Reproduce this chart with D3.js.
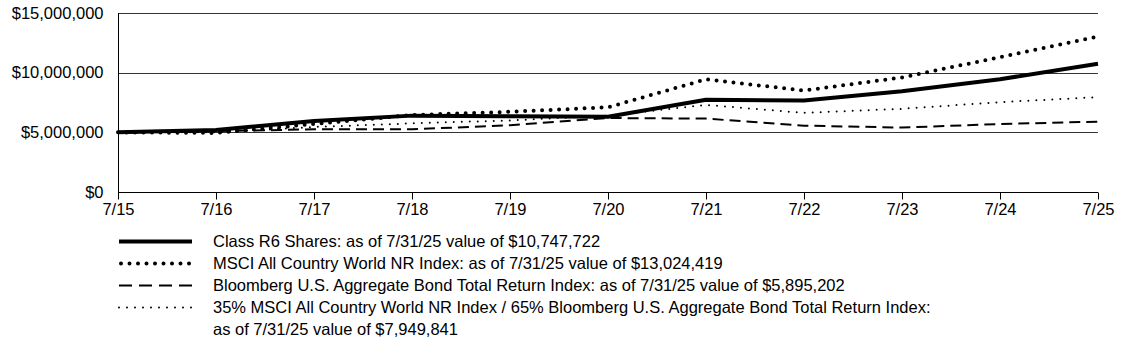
<!DOCTYPE html>
<meta charset="utf-8">
<style>
body { margin: 0; background: #fff; }
text { font-family: "Liberation Sans", Arial, sans-serif; fill: #000; }
.grid line { stroke: #333; stroke-width: 1px; }
.axis path, .axis line { stroke: #000; stroke-width: 1px; }
.axis text { font-size: 16.5px; font-family: "Liberation Sans", Arial, sans-serif; }
.series { fill: none; stroke: #000; }
.legend text { font-size: 16.5px; }
</style>
<body>
<svg id="chart" width="1123" height="347"></svg>
<script src="https://d3js.org/d3.v7.min.js"></script>
<script>

// values in $
var years = ["7/15","7/16","7/17","7/18","7/19","7/20","7/21","7/22","7/23","7/24","7/25"];
var r6    = [5000000, 5200000, 5950000, 6400000, 6350000, 6300000, 7730000, 7670000, 8450000, 9450000, 10747722];
var acwi  = [5000000, 4950000, 5700000, 6450000, 6720000, 7100000, 9440000, 8500000, 9600000, 11300000, 13024419];
var bond  = [5000000, 5100000, 5250000, 5250000, 5600000, 6200000, 6150000, 5560000, 5400000, 5700000, 5895202];
var blend = [5000000, 5000000, 5450000, 5750000, 6000000, 6400000, 7300000, 6630000, 6970000, 7530000, 7949841];
var yTicks = [0, 5000000, 10000000, 15000000];

var labels = [
  ["Class R6 Shares: as of 7/31/25 value of $10,747,722"],
  ["MSCI All Country World NR Index: as of 7/31/25 value of $13,024,419"],
  ["Bloomberg U.S. Aggregate Bond Total Return Index: as of 7/31/25 value of $5,895,202"],
  ["35% MSCI All Country World NR Index / 65% Bloomberg U.S. Aggregate Bond Total Return Index:",
   "as of 7/31/25 value of $7,949,841"]
];

var styles = [
  {w: 4,   dash: null,    cap: "butt"},
  {w: 4,   dash: "0,8.5", cap: "round"},
  {w: 2,   dash: "11,6",  cap: "butt"},
  {w: 2,   dash: "0,8",   cap: "round"}
];

var mLeft = 118, mRight = 1098, mTop = 13, mBottom = 192;
var svg = d3.select("#chart");

var x = d3.scalePoint().domain(years).range([mLeft, mRight]);
var y = d3.scaleLinear().domain([0, 15000000]).range([mBottom, mTop]);

// horizontal grid
svg.append("g").attr("class", "grid")
  .selectAll("line").data(yTicks.slice(1)).enter().append("line")
  .attr("x1", mLeft).attr("x2", mRight)
  .attr("y1", function(d) { return Math.round(y(d)) + 0.5; })
  .attr("y2", function(d) { return Math.round(y(d)) + 0.5; });

// y axis
var yAxis = svg.append("g").attr("class", "axis")
  .attr("transform", "translate(" + (mLeft + 0.5) + ",0)")
  .call(d3.axisLeft(y).tickValues(yTicks).tickSize(0).tickPadding(15)
    .tickFormat(function(d) { return "$" + d3.format(",")(d); }));
yAxis.select(".domain").remove();
svg.append("line").attr("class", "axis")
  .attr("x1", mLeft + 0.5).attr("x2", mLeft + 0.5)
  .attr("y1", mTop).attr("y2", mBottom + 7)
  .style("stroke", "#000");

// x axis
var xAxis = svg.append("g").attr("class", "axis")
  .attr("transform", "translate(0," + (mBottom + 0.5) + ")")
  .call(d3.axisBottom(x).tickSize(7).tickSizeOuter(0).tickPadding(4));
xAxis.select(".domain").attr("d", "M" + mLeft + ",0H" + mRight);

// series
var line = d3.line()
  .x(function(d, i) { return x(years[i]); })
  .y(function(d) { return y(d); });

var series = [blend, bond, r6, acwi];
var order = [3, 2, 0, 1];
series.forEach(function(s, k) {
  var st = styles[order[k]];
  svg.append("path").datum(s).attr("class", "series")
    .attr("d", line)
    .attr("stroke-width", st.w)
    .attr("stroke-dasharray", st.dash)
    .attr("stroke-linecap", st.cap)
    .attr("stroke-linejoin", "round");
});

// legend
var lg = svg.append("g").attr("class", "legend");
var rowY = [241, 263, 285, 307];
labels.forEach(function(lab, i) {
  var st = styles[i];
  lg.append("line")
    .attr("x1", i == 1 ? 121 : 119).attr("x2", 192)
    .attr("y1", rowY[i] + 0.5).attr("y2", rowY[i] + 0.5)
    .attr("stroke", "#000")
    .attr("stroke-width", st.w)
    .attr("stroke-dasharray", i == 2 ? "13,7" : st.dash)
    .attr("stroke-linecap", st.cap);
  lab.forEach(function(t, j) {
    lg.append("text")
      .attr("x", 213).attr("y", rowY[i] + 6 + j * 22)
      .text(t);
  });
});

</script>
</body>
